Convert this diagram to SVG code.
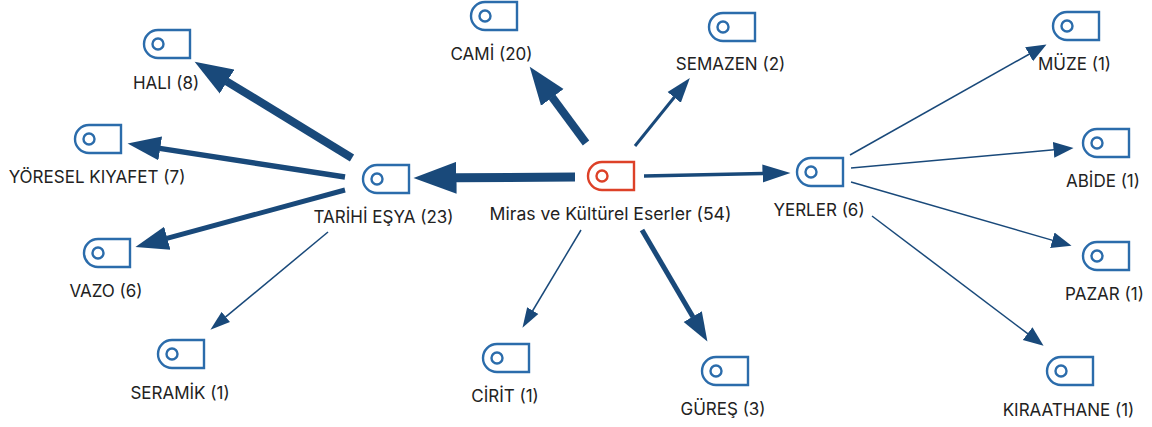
<svg xmlns="http://www.w3.org/2000/svg" width="1152" height="427" viewBox="0 0 1152 427">
<style>
.bg{fill:#fff}
.icon{fill:none;stroke-width:2.4}
use{stroke:#2b6cab}
.root use{stroke:#dd4128}
text{font-family:Inter,"Liberation Sans",Arial,sans-serif;font-size:17px;fill:#222;text-anchor:middle}
.root text{font-size:17.6px}
.c{fill:none;stroke:#19497a}
.head{fill:#19497a}
</style>
<defs>
<symbol id="tag" width="50" height="32" viewBox="-2 -2 50 32" overflow="visible">
<path class="icon" d="M46 0V28H14A14 14 0 0 1 14 0Z"/>
<circle class="icon" cx="14" cy="14" r="5.5"/>
</symbol>
<marker id="a1" markerUnits="userSpaceOnUse" markerWidth="22" markerHeight="14" refX="0.5" refY="7" orient="auto"><path class="head" d="M0 0.5L20 7L0 13.5Z"/></marker>
<marker id="a1b" markerUnits="userSpaceOnUse" markerWidth="22" markerHeight="18" refX="0.5" refY="9" orient="auto"><path class="head" d="M0 1L20 9L0 17Z"/></marker>
<marker id="a2" markerUnits="userSpaceOnUse" markerWidth="27" markerHeight="19" refX="0.5" refY="9.5" orient="auto"><path class="head" d="M0 1L25 9.5L0 18Z"/></marker>
<marker id="a3" markerUnits="userSpaceOnUse" markerWidth="30" markerHeight="20" refX="0.5" refY="10" orient="auto"><path class="head" d="M0 1L28 10L0 19Z"/></marker>
<marker id="a4" markerUnits="userSpaceOnUse" markerWidth="31" markerHeight="23" refX="0.5" refY="11.5" orient="auto"><path class="head" d="M0 1L29 11.5L0 22Z"/></marker>
<marker id="a5" markerUnits="userSpaceOnUse" markerWidth="35" markerHeight="26" refX="0.5" refY="13" orient="auto"><path class="head" d="M0 1L33 13L0 25Z"/></marker>
<marker id="a6" markerUnits="userSpaceOnUse" markerWidth="41" markerHeight="30" refX="0.5" refY="15" orient="auto"><path class="head" d="M0 1L38 15L0 29Z"/></marker>
<marker id="a7" markerUnits="userSpaceOnUse" markerWidth="45" markerHeight="34" refX="0.5" refY="17" orient="auto"><path class="head" d="M0 1L43 17L0 33Z"/></marker>
</defs>
<rect class="bg" width="1152" height="427"/>
<g id="connectors">
<path class="c" stroke-width="9" marker-end="url(#a7)" d="M575 177L456 177.7"/>
<path class="c" stroke-width="8" marker-end="url(#a6)" d="M586 143L552 97"/>
<path class="c" stroke-width="3" marker-end="url(#a2)" d="M635 146L674.5 97"/>
<path class="c" stroke-width="3.5" marker-end="url(#a3)" d="M644 176L763 173.6"/>
<path class="c" stroke-width="1.5" marker-end="url(#a1)" d="M581 230L532.5 311"/>
<path class="c" stroke-width="5" marker-end="url(#a4)" d="M642 230L693 317"/>
<path class="c" stroke-width="8" marker-end="url(#a6)" d="M352 158L226.6 81.3"/>
<path class="c" stroke-width="5.5" marker-end="url(#a5)" d="M345 177L159.7 148.4"/>
<path class="c" stroke-width="5" marker-end="url(#a5)" d="M345 190L166.8 238.4"/>
<path class="c" stroke-width="1.5" marker-end="url(#a1)" d="M328 232L225.4 317.2"/>
<path class="c" stroke-width="1.5" marker-end="url(#a1b)" d="M850 155L1029.5 54"/>
<path class="c" stroke-width="1.5" marker-end="url(#a1b)" d="M851 168L1054.1 149.8"/>
<path class="c" stroke-width="1.5" marker-end="url(#a1b)" d="M851 182L1052.8 240.4"/>
<path class="c" stroke-width="1.5" marker-end="url(#a1b)" d="M872 216L1028 333.9"/>
</g>
<g id="node-root" class="root"><use href="#tag" x="586" y="160"/><text x="610.5" y="219.5">Miras ve Kültürel Eserler (54)</text></g>
<g id="node-tarihi"><use href="#tag" x="361" y="163"/><text x="383.5" y="222.5">TARİHİ EŞYA (23)</text></g>
<g id="node-yerler"><use href="#tag" x="795" y="156"/><text x="819" y="215.5">YERLER (6)</text></g>
<g id="node-hali"><use href="#tag" x="142" y="28"/><text x="166" y="88.5">HALI (8)</text></g>
<g id="node-yoresel"><use href="#tag" x="73" y="123"/><text x="97" y="182.5">YÖRESEL KIYAFET (7)</text></g>
<g id="node-vazo"><use href="#tag" x="82" y="237"/><text x="106" y="296.5">VAZO (6)</text></g>
<g id="node-seramik"><use href="#tag" x="156" y="338"/><text x="180" y="398.5">SERAMİK (1)</text></g>
<g id="node-cami"><use href="#tag" x="469" y="0"/><text x="491.5" y="59.5">CAMİ (20)</text></g>
<g id="node-semazen"><use href="#tag" x="707" y="11"/><text x="730.5" y="69.5">SEMAZEN (2)</text></g>
<g id="node-cirit"><use href="#tag" x="481" y="342"/><text x="505" y="401.5">CİRİT (1)</text></g>
<g id="node-gures"><use href="#tag" x="700" y="355"/><text x="723" y="414.5">GÜREŞ (3)</text></g>
<g id="node-muze"><use href="#tag" x="1051" y="10"/><text x="1074.5" y="69.5">MÜZE (1)</text></g>
<g id="node-abide"><use href="#tag" x="1081" y="127"/><text x="1103" y="186.5">ABİDE (1)</text></g>
<g id="node-pazar"><use href="#tag" x="1081" y="240"/><text x="1104.5" y="299.5">PAZAR (1)</text></g>
<g id="node-kiraathane"><use href="#tag" x="1045" y="355"/><text x="1068.5" y="415.5">KIRAATHANE (1)</text></g>
</svg>
